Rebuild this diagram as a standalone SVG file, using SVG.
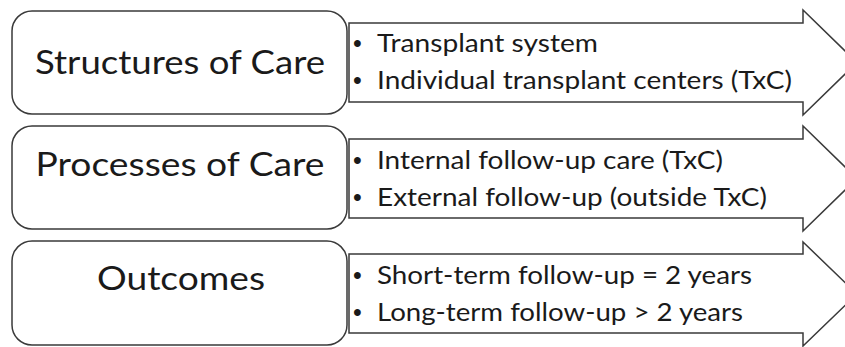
<svg xmlns="http://www.w3.org/2000/svg" width="845" height="347" viewBox="0 0 845 347">
<style>
.box{fill:#fff;stroke:#3a3a3a;stroke-width:1.5}
.arr{fill:#fff;stroke:#3a3a3a;stroke-width:1.5;stroke-linejoin:miter}
.big{font-family:Lato,"Liberation Sans",sans-serif;font-size:33px;fill:#1a1a1a;text-anchor:middle}
.item{font-family:Lato,"Liberation Sans",sans-serif;font-size:25.5px;fill:#1a1a1a}
.bul{font-family:"Liberation Sans",sans-serif;font-size:25px;fill:#1a1a1a}
</style>
<rect width="845" height="347" fill="#fff"/>
<g id="connectors">
<polygon id="arrow1" class="arr" points="349,23 803,23 803,10 857,62.5 803,115 803,102 349,102"/>
<polygon id="arrow2" class="arr" points="349,139 803,139 803,126 857,178.5 803,231 803,218 349,218"/>
<polygon id="arrow3" class="arr" points="349,254 803,254 803,242 857,294 803,346 803,333 349,333"/>
</g>
<g id="node-structures">
<rect class="box" x="12" y="11" width="335" height="103" rx="20" ry="20"/>
<text class="big" x="180" y="74" textLength="290" lengthAdjust="spacingAndGlyphs">Structures of Care</text>
</g>
<g id="list-structures">
<text class="bul" x="353" y="52">•</text>
<text class="item" x="377" y="52" textLength="221" lengthAdjust="spacingAndGlyphs">Transplant system</text>
<text class="bul" x="353" y="89">•</text>
<text class="item" x="377" y="89" textLength="415" lengthAdjust="spacingAndGlyphs">Individual transplant centers (TxC)</text>
</g>
<g id="node-processes">
<rect class="box" x="12" y="126" width="335" height="103" rx="20" ry="20"/>
<text class="big" x="180" y="176" textLength="289" lengthAdjust="spacingAndGlyphs">Processes of Care</text>
</g>
<g id="list-processes">
<text class="bul" x="353" y="169">•</text>
<text class="item" x="377" y="169" textLength="346" lengthAdjust="spacingAndGlyphs">Internal follow-up care (TxC)</text>
<text class="bul" x="353" y="206">•</text>
<text class="item" x="377" y="206" textLength="390" lengthAdjust="spacingAndGlyphs">External follow-up (outside TxC)</text>
</g>
<g id="node-outcomes">
<rect class="box" x="12" y="241" width="335" height="104" rx="20" ry="20"/>
<text class="big" x="181" y="290" textLength="168" lengthAdjust="spacingAndGlyphs">Outcomes</text>
</g>
<g id="list-outcomes">
<text class="bul" x="353" y="284">•</text>
<text class="item" x="377" y="284" textLength="375" lengthAdjust="spacingAndGlyphs">Short-term follow-up = 2 years</text>
<text class="bul" x="353" y="321">•</text>
<text class="item" x="377" y="321" textLength="366" lengthAdjust="spacingAndGlyphs">Long-term follow-up &gt; 2 years</text>
</g>
</svg>
